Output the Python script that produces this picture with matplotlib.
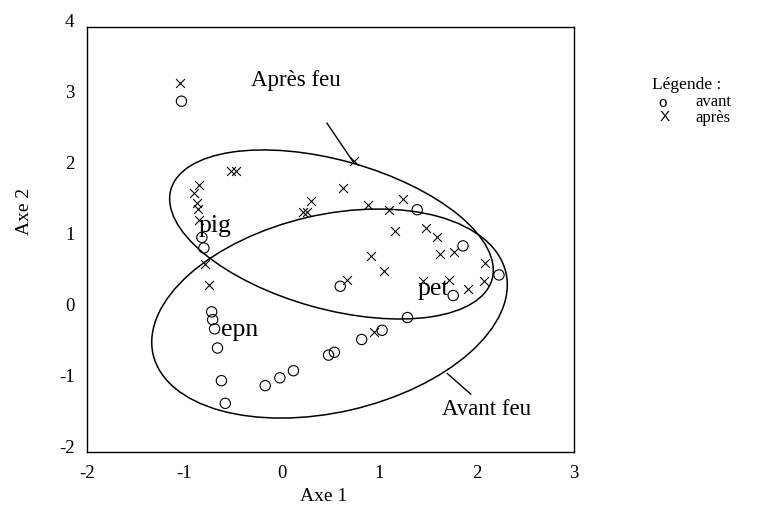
import matplotlib
matplotlib.use("Agg")
import matplotlib.pyplot as plt
from matplotlib.patches import Circle
from matplotlib.transforms import Affine2D, ScaledTranslation

plt.rcParams['font.family'] = ['Liberation Serif', 'DejaVu Serif']

# --- data ---
avant_x = [-1.03, -0.82, -0.80, -0.72, -0.71, -0.69, -0.66, -0.62, -0.58, -0.17, -0.02,
           0.12, 0.48, 0.54, 0.82, 1.03, 1.29, 0.60, 1.39, 1.86, 2.23, 1.76]
avant_y = [2.95, 1.03, 0.88, -0.02, -0.13, -0.26, -0.53, -0.99, -1.31, -1.06, -0.95,
           -0.85, -0.63, -0.59, -0.41, -0.28, -0.10, 0.34, 1.42, 0.91, 0.50, 0.21]

apres_x = [-1.05, -0.52, -0.47, -0.85, -0.90, -0.87, -0.86, -0.855, -0.79, -0.75, 0.74,
           0.63, 0.30, 0.22, 0.26, 0.88, 1.10, 1.24, 1.16, 1.48, 1.59, 1.77, 1.62, 0.92,
           1.05, 2.09, 2.08, 0.67, 1.45, 1.72, 1.91, 0.95]
apres_y = [3.21, 1.97, 1.97, 1.77, 1.66, 1.52, 1.43, 1.28, 0.66, 0.36, 2.11,
           1.73, 1.54, 1.39, 1.39, 1.49, 1.42, 1.57, 1.12, 1.16, 1.04, 0.83, 0.79, 0.77,
           0.56, 0.67, 0.41, 0.43, 0.41, 0.43, 0.30, -0.31]

x_ticks = [-2, -1, 0, 1, 2, 3]
y_ticks = [-2, -1, 0, 1, 2, 3, 4]

# ellipses: center and two conjugate semi-diameters (data units)
ell_apres = dict(center=(0.510, 1.071), u=(1.649, -0.631), v=(0.203, 1.011))
ell_avant = dict(center=(0.490, -0.044), u=(1.811, 0.577), v=(-0.227, 1.356))

group_labels = [("pig", -0.855, 1.19), ("epn", -0.62, -0.28), ("pet", 1.39, 0.30)]
titles = [("Après feu", -0.32, 3.24, (0.464, 2.64), (0.73, 2.10)),
          ("Avant feu", 1.64, -1.39, (1.70, -0.89), (1.94, -1.18))]

fig = plt.figure(figsize=(7.71, 5.11), dpi=100)
ax = fig.add_axes([0.1128, 0.1149, 0.7445 - 0.1128, 0.9477 - 0.1149])
ax.set_xlim(-2, 3)
ax.set_ylim(-2, 4)

ax.scatter(avant_x, avant_y, s=55, facecolors='none', edgecolors='black', linewidths=0.8, zorder=3)
ax.scatter(apres_x, apres_y, s=40, marker='x', color='black', linewidths=0.8, zorder=3)

for e in (ell_apres, ell_avant):
    (cx, cy), (ux, uy), (vx, vy) = e['center'], e['u'], e['v']
    tr = Affine2D(matrix=[[ux, vx, cx], [uy, vy, cy], [0, 0, 1]]) + ax.transData
    ax.add_patch(Circle((0, 0), 1, transform=tr, fill=False, edgecolor='black', linewidth=1.1))

for txt, x, y in group_labels:
    ax.text(x, y, txt, fontsize=18.5, ha='left', va='center', zorder=4)

for txt, x, y, p0, p1 in titles:
    ax.text(x, y, txt, fontsize=16.5, ha='left', va='center')
    ax.plot([p0[0], p1[0]], [p0[1], p1[1]], color='black', linewidth=1.0)

ax.set_xticks(x_ticks)
ax.set_yticks(y_ticks)
ax.set_xticklabels([str(t) for t in x_ticks])
ax.set_yticklabels([str(t) for t in y_ticks])
ax.tick_params(length=0, labelsize=13.5, pad=9)
for lab in ax.get_yticklabels():
    lab.set_transform(lab.get_transform() + ScaledTranslation(0, 6 / 100, fig.dpi_scale_trans))
for sp in ax.spines.values():
    sp.set_linewidth(1.0)

ax.set_xlabel("Axe 1", fontsize=14)
ax.set_ylabel("Axe 2", fontsize=14)
ax.xaxis.set_label_coords(0.486, -0.084)
ax.yaxis.set_label_coords(-0.111, 0.567)

# legend (outside)
fig.text(0.8457, 0.834, "Légende :", fontsize=12.5, ha='left', va='center')
fig.text(0.860, 0.799, "o", fontsize=11, ha='center', va='center', family=['Liberation Sans'])
fig.text(0.9014, 0.801, "avant", fontsize=12, ha='left', va='center')
fig.text(0.8625, 0.771, "X", fontsize=11, ha='center', va='center', family=['Liberation Sans'])
fig.text(0.9014, 0.770, "après", fontsize=12, ha='left', va='center')

fig.savefig("out.png", dpi=100)
